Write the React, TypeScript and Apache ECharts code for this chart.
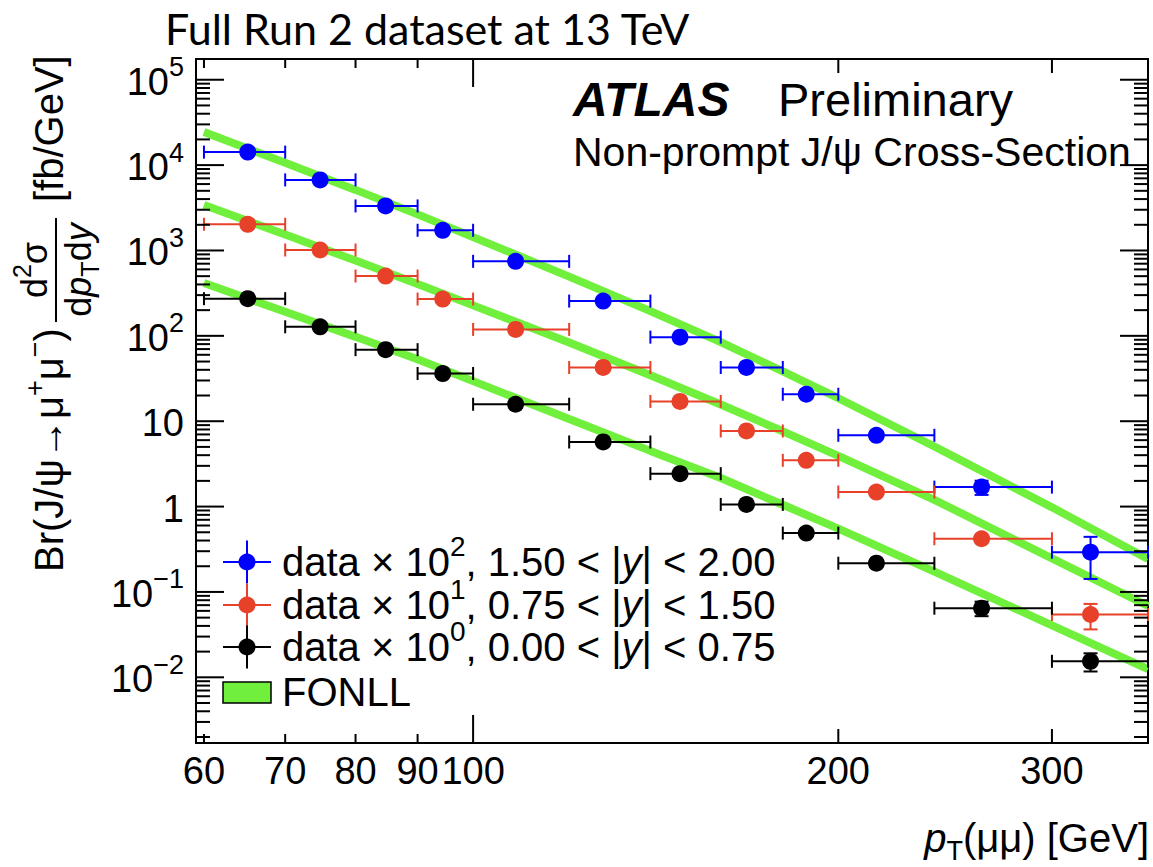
import { useEffect, useRef } from 'react';
import * as echarts from 'echarts';

const SANS = '"Liberation Sans", Arial, Helvetica, sans-serif';

// Transverse-momentum binning of the measurement [GeV]
const binEdges = [60, 70, 80, 90, 100, 120, 140, 160, 180, 200, 240, 300, 360];
// Mean pT of the candidates in each bin [GeV]
const binCentres = [65.2, 74.8, 84.7, 94.4, 108.4, 128.0, 148.1, 168.0, 188.2, 215.0, 262.5, 322.8];

// Br(J/psi -> mu mu) d2sigma/dpT dy [fb/GeV], scaled by the factor quoted in the legend
const forwardValues = [14200, 6710, 3325, 1725, 746, 255.5, 96.6, 42.6, 20.7, 6.84, 1.69, 0.292]; // x 10^2
const forwardErrors = [850, 380, 190, 100, 45, 16, 6, 2.8, 1.4, 0.5, 0.32, 0.15];
const midValues = [2028, 1013, 502, 269.7, 119, 42.6, 17.05, 7.69, 3.48, 1.48, 0.42, 0.0544]; // x 10^1
const midErrors = [120, 60, 30, 16, 7, 2.6, 1.05, 0.48, 0.22, 0.1, 0.035, 0.018];
const centralValues = [272.6, 127.6, 68.9, 36.2, 15.8, 5.71, 2.43, 1.06, 0.489, 0.217, 0.0645, 0.0154]; // x 10^0
const centralErrors = [16, 7.5, 4, 2.1, 0.95, 0.36, 0.15, 0.065, 0.03, 0.015, 0.0125, 0.0037];

// FONLL prediction (same scale factors), sampled at the bin edges
const fonllPt = [60, 70, 80, 90, 100, 120, 140, 160, 180, 200, 240, 300, 360];
const fonllForward = [24500, 10650, 5125, 2650, 1435, 494, 195, 84.4, 38.3, 18.6, 5.05, 0.98, 0.243];
const fonllMid = [3420, 1535, 761, 404, 227.5, 83.7, 34.6, 15.7, 7.62, 3.93, 1.2, 0.247, 0.0684];
const fonllCentral = [415, 191, 97.3, 53.2, 29.5, 10.6, 4.49, 2.16, 1.05, 0.551, 0.173, 0.0406, 0.01247];

// Axis ranges and labelled ticks
const X_MIN = 59.1;
const X_MAX = 360;
const Y_MIN = 1.7e-3;
const Y_MAX = 1.75e5;
const xTickValues = [60, 70, 80, 90, 100, 200, 300];
const yDecadeRange = [-3, 5];

const BLUE = '#0000ff';
const RED = '#e8412a';
const BLACK = '#000000';
const GREEN = '#70f03c';

const isDecade = (v: number) => {
  const lg = Math.log10(v);
  return Math.abs(lg - Math.round(lg)) < 1e-9;
};

const errorRows = (vals: number[], errs: number[]) =>
  binCentres.map((x, i) => [x, vals[i], binEdges[i], binEdges[i + 1], vals[i] - errs[i], vals[i] + errs[i]]);

const seg = (x1: number, y1: number, x2: number, y2: number, stroke: string, lineWidth = 2) => ({
  type: 'line',
  shape: { x1, y1, x2, y2 },
  style: { stroke, lineWidth },
});

const errorBarRenderer = (color: string) => (_params: any, api: any) => {
  const [cx, cy] = api.coord([api.value(0), api.value(1)]);
  const [xl] = api.coord([api.value(2), api.value(1)]);
  const [xh] = api.coord([api.value(3), api.value(1)]);
  const [, yl] = api.coord([api.value(0), api.value(4)]);
  const [, yh] = api.coord([api.value(0), api.value(5)]);
  return {
    type: 'group',
    children: [
      seg(xl, cy, xh, cy, color),
      seg(xl, cy - 6.5, xl, cy + 6.5, color),
      seg(xh, cy - 6.5, xh, cy + 6.5, color),
      seg(cx, yh, cx, yl, color),
      seg(cx - 7, yh, cx + 7, yh, color),
      seg(cx - 7, yl, cx + 7, yl, color),
    ],
  };
};

// Tick marks on all four sides of the frame, with the labels of the log axes
const xTickData = xTickValues.map((v) => [v, Y_MIN]);
const yTickData: number[][] = [];
for (let k = yDecadeRange[0]; k <= yDecadeRange[1]; k++) {
  for (let m = 1; m <= 9; m++) {
    const v = m * Math.pow(10, k);
    if (v > Y_MIN && v < Y_MAX) yTickData.push([X_MIN, v]);
  }
}

const renderXTick = (_params: any, api: any) => {
  const v = api.value(0);
  const [x, yb] = api.coord([v, Y_MIN]);
  const [, yt] = api.coord([v, Y_MAX]);
  const len = isDecade(v) ? 28 : v % 100 === 0 ? 14 : 9;
  return {
    type: 'group',
    children: [
      seg(x, yb, x, yb - len, '#000'),
      seg(x, yt, x, yt + len, '#000'),
      {
        type: 'text',
        style: {
          text: String(v),
          x,
          y: yb + 28,
          align: 'center',
          verticalAlign: 'middle',
          fontSize: 38,
          fontFamily: SANS,
          fill: '#000',
        },
      },
    ],
  };
};

const decadeLabel = (k: number) => {
  if (k === 0) return '1';
  if (k === 1) return '10';
  return '10{s|' + (k < 0 ? '\u2212' + -k : String(k)) + '}';
};

const renderYTick = (_params: any, api: any) => {
  const v = api.value(1);
  const [xl, y] = api.coord([X_MIN, v]);
  const [xr] = api.coord([X_MAX, v]);
  const major = isDecade(v);
  const len = major ? 28 : 14;
  const children: any[] = [seg(xl, y, xl + len, y, '#000'), seg(xr, y, xr - len, y, '#000')];
  if (major) {
    children.push({
      type: 'text',
      style: {
        text: decadeLabel(Math.round(Math.log10(v))),
        x: xl - 12,
        y: y + 2,
        align: 'right',
        verticalAlign: 'middle',
        fontSize: 38,
        fontFamily: SANS,
        lineHeight: 56,
        fill: '#000',
        rich: {
          s: { fontSize: 27, fontFamily: SANS, lineHeight: 27, verticalAlign: 'top', fill: '#000' },
        },
      },
    });
  }
  return { type: 'group', children };
};

const legendEntries = [
  { color: BLUE, label: 'data \u00d7 10{s|2}, 1.50 < |{i|y}| < 2.00' },
  { color: RED, label: 'data \u00d7 10{s|1}, 0.75 < |{i|y}| < 1.50' },
  { color: BLACK, label: 'data \u00d7 10{s|0}, 0.00 < |{i|y}| < 0.75' },
];

const richText = (size: number, supSize: number) => ({
  s: { fontSize: supSize, fontFamily: SANS, lineHeight: supSize, verticalAlign: 'top', fill: '#000' },
  sub: { fontSize: supSize, fontFamily: SANS, lineHeight: supSize, verticalAlign: 'bottom', fill: '#000' },
  i: { fontSize: size, fontFamily: SANS, fontStyle: 'italic', fill: '#000' },
});

const buildLegend = () => {
  const rowY = [562, 605, 647];
  const children: any[] = [];
  legendEntries.forEach((e, idx) => {
    const y = rowY[idx];
    children.push(seg(247, y - 21.5, 247, y + 21.5, e.color));
    children.push(seg(223, y, 271, y, e.color));
    children.push({ type: 'circle', shape: { cx: 247, cy: y, r: 8.5 }, style: { fill: e.color } });
    children.push({
      type: 'text',
      x: 282,
      y,
      style: {
        text: e.label,
        fontSize: 40,
        fontFamily: SANS,
        lineHeight: 60,
        fill: '#000',
        align: 'left',
        verticalAlign: 'middle',
        rich: richText(40, 28),
      },
    });
  });
  children.push({
    type: 'rect',
    shape: { x: 223, y: 682, width: 48, height: 21 },
    style: { fill: GREEN, stroke: '#000', lineWidth: 1.5 },
  });
  children.push({
    type: 'text',
    x: 282,
    y: 692,
    style: { text: 'FONLL', fontSize: 40, fontFamily: SANS, fill: '#000', align: 'left', verticalAlign: 'middle' },
  });
  return { type: 'group', children };
};

// Rotated y-axis title: Br(J/psi -> mu mu) d2sigma/(dpT dy) [fb/GeV]
const buildYTitle = () => ({
  type: 'group',
  x: 49,
  y: 572,
  rotation: Math.PI / 2,
  children: [
    {
      type: 'text',
      x: 0,
      y: 0,
      style: {
        text: 'Br(J/\u03c8\u2192\u03bc{s|+}\u03bc{s|\u2212})',
        fontSize: 40,
        fontFamily: SANS,
        lineHeight: 56,
        fill: '#000',
        align: 'left',
        verticalAlign: 'middle',
        rich: richText(40, 27),
      },
    },
    {
      type: 'text',
      x: 302,
      y: -15,
      style: {
        text: 'd{s|2}\u03c3',
        fontSize: 36,
        fontFamily: SANS,
        lineHeight: 50,
        fill: '#000',
        align: 'center',
        verticalAlign: 'middle',
        rich: richText(36, 25),
      },
    },
    seg(250, 7, 354, 7, '#000', 2),
    {
      type: 'text',
      x: 302,
      y: 29,
      style: {
        text: 'd{i|p}{sub|T}d{i|y}',
        fontSize: 36,
        fontFamily: SANS,
        lineHeight: 48,
        fill: '#000',
        align: 'center',
        verticalAlign: 'middle',
        rich: richText(36, 25),
      },
    },
    {
      type: 'text',
      x: 370,
      y: 0,
      style: {
        text: '[fb/GeV]',
        fontSize: 40,
        fontFamily: SANS,
        fill: '#000',
        align: 'left',
        verticalAlign: 'middle',
      },
    },
  ],
});

const option: any = {
  animation: false,
  backgroundColor: '#ffffff',
  grid: {
    left: 196,
    top: 59,
    width: 952,
    height: 684,
    show: true,
    borderColor: '#000',
    borderWidth: 2,
    backgroundColor: 'transparent',
  },
  xAxis: {
    type: 'log',
    logBase: 10,
    min: X_MIN,
    max: X_MAX,
    axisLine: { show: false },
    axisTick: { show: false },
    axisLabel: { show: false },
    splitLine: { show: false },
  },
  yAxis: {
    type: 'log',
    logBase: 10,
    min: Y_MIN,
    max: Y_MAX,
    axisLine: { show: false },
    axisTick: { show: false },
    axisLabel: { show: false },
    splitLine: { show: false },
  },
  series: [
    ...[fonllForward, fonllMid, fonllCentral].map((band) => ({
      type: 'line',
      name: 'FONLL',
      data: fonllPt.map((x, i) => [x, band[i]]),
      showSymbol: false,
      lineStyle: { color: GREEN, width: 8 },
      itemStyle: { color: GREEN },
      z: 2,
      silent: true,
    })),
    ...[
      { vals: forwardValues, errs: forwardErrors, color: BLUE },
      { vals: midValues, errs: midErrors, color: RED },
      { vals: centralValues, errs: centralErrors, color: BLACK },
    ].flatMap((s) => [
      {
        type: 'custom',
        renderItem: errorBarRenderer(s.color),
        data: errorRows(s.vals, s.errs),
        encode: { x: 0, y: 1 },
        clip: false,
        z: 3,
        silent: true,
      },
      {
        type: 'scatter',
        data: binCentres.map((x, i) => [x, s.vals[i]]),
        symbol: 'circle',
        symbolSize: 17,
        itemStyle: { color: s.color, opacity: 1 },
        z: 4,
        silent: true,
      },
    ]),
    {
      type: 'custom',
      renderItem: renderXTick,
      data: xTickData,
      encode: { x: 0, y: 1 },
      clip: false,
      z: 6,
      silent: true,
    },
    {
      type: 'custom',
      renderItem: renderYTick,
      data: yTickData,
      encode: { x: 0, y: 1 },
      clip: false,
      z: 6,
      silent: true,
    },
  ],
  graphic: [
    {
      type: 'text',
      x: 165,
      y: 28,
      style: {
        text: 'Full Run 2 dataset at 13 TeV',
        fontSize: 43,
        fontFamily: 'Lato, "Open Sans", sans-serif',
        fill: '#000',
        align: 'left',
        verticalAlign: 'middle',
      },
    },
    {
      type: 'text',
      x: 573,
      y: 99,
      style: {
        text: 'ATLAS',
        fontSize: 48,
        fontFamily: SANS,
        fontWeight: 'bold',
        fontStyle: 'italic',
        fill: '#000',
        align: 'left',
        verticalAlign: 'middle',
      },
    },
    {
      type: 'text',
      x: 778,
      y: 99,
      style: {
        text: 'Preliminary',
        fontSize: 47,
        fontFamily: SANS,
        fill: '#000',
        align: 'left',
        verticalAlign: 'middle',
      },
    },
    {
      type: 'text',
      x: 573,
      y: 152,
      style: {
        text: 'Non-prompt J/\u03c8 Cross-Section',
        fontSize: 41,
        fontFamily: SANS,
        fill: '#000',
        align: 'left',
        verticalAlign: 'middle',
      },
    },
    {
      type: 'text',
      x: 1149,
      y: 838,
      style: {
        text: '{i|p}{sub|T}(\u03bc\u03bc) [GeV]',
        fontSize: 40,
        fontFamily: SANS,
        lineHeight: 52,
        fill: '#000',
        align: 'right',
        verticalAlign: 'middle',
        rich: richText(40, 27),
      },
    },
    buildYTitle(),
    buildLegend(),
  ],
};

export default function App() {
  const ref = useRef<HTMLDivElement>(null);
  useEffect(() => {
    if (!ref.current) return;
    const chart = echarts.init(ref.current, null, { renderer: 'svg' });
    chart.setOption(option);
    return () => chart.dispose();
  }, []);
  return (
    <div
      ref={ref}
      style={{ position: 'fixed', left: 0, top: 0, width: 1153, height: 867, background: '#fff' }}
    />
  );
}
